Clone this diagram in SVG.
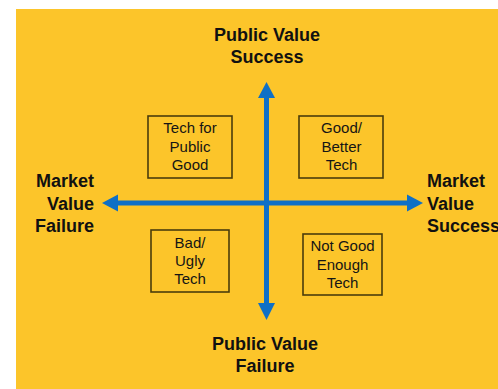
<svg xmlns="http://www.w3.org/2000/svg" width="498" height="389" viewBox="0 0 498 389">
<defs>
<style>
.axis{font-family:"Liberation Sans",Arial,sans-serif;font-weight:bold;font-size:18px;fill:#111111}
.lbl{font-family:"Liberation Sans",Arial,sans-serif;font-size:15px;fill:#151515;text-anchor:middle}
.box{fill:none;stroke:#4a3c0c;stroke-width:1.6}
.ln{stroke:#0f70c6;stroke-width:5;fill:none}
.hd{fill:#0f70c6}
</style>
</defs>
<rect x="0" y="0" width="498" height="389" fill="#ffffff"/>
<rect x="16" y="9" width="482" height="380" fill="#fcc52a"/>
<g id="connectors">
<line class="ln" x1="266.5" y1="96" x2="266.5" y2="306"/>
<polygon class="hd" points="266.5,82 258,98 275,98"/>
<polygon class="hd" points="266.5,320 258,303 275,303"/>
<line class="ln" x1="116" y1="203" x2="410" y2="203"/>
<polygon class="hd" points="102,203 118,194.5 118,211.5"/>
<polygon class="hd" points="423,203 407,194.5 407,211.5"/>
</g>
<g id="top-label">
<text class="axis" x="267" y="41" text-anchor="middle">Public Value</text>
<text class="axis" x="267" y="63" text-anchor="middle">Success</text>
</g>
<g id="bottom-label">
<text class="axis" x="265" y="350" text-anchor="middle">Public Value</text>
<text class="axis" x="265" y="372" text-anchor="middle">Failure</text>
</g>
<g id="left-label">
<text class="axis" x="94" y="187" text-anchor="end">Market</text>
<text class="axis" x="94" y="210" text-anchor="end">Value</text>
<text class="axis" x="94" y="232" text-anchor="end">Failure</text>
</g>
<g id="right-label">
<text class="axis" x="427" y="187">Market</text>
<text class="axis" x="427" y="210">Value</text>
<text class="axis" x="427" y="232">Success</text>
</g>
<g id="tech-for-public-good">
<rect class="box" x="148" y="116" width="84" height="62"/>
<text class="lbl" x="190" y="133">Tech for</text>
<text class="lbl" x="190" y="152">Public</text>
<text class="lbl" x="190" y="170">Good</text>
</g>
<g id="good-better-tech">
<rect class="box" x="299" y="116" width="84" height="62"/>
<text class="lbl" x="341.5" y="133">Good/</text>
<text class="lbl" x="341.5" y="152">Better</text>
<text class="lbl" x="341.5" y="170">Tech</text>
</g>
<g id="bad-ugly-tech">
<rect class="box" x="151" y="230" width="78" height="62"/>
<text class="lbl" x="190" y="248">Bad/</text>
<text class="lbl" x="190" y="266">Ugly</text>
<text class="lbl" x="190" y="284">Tech</text>
</g>
<g id="not-good-enough-tech">
<rect class="box" x="303" y="234" width="79" height="61"/>
<text class="lbl" x="342.5" y="251">Not Good</text>
<text class="lbl" x="342.5" y="270">Enough</text>
<text class="lbl" x="342.5" y="288">Tech</text>
</g>
</svg>
